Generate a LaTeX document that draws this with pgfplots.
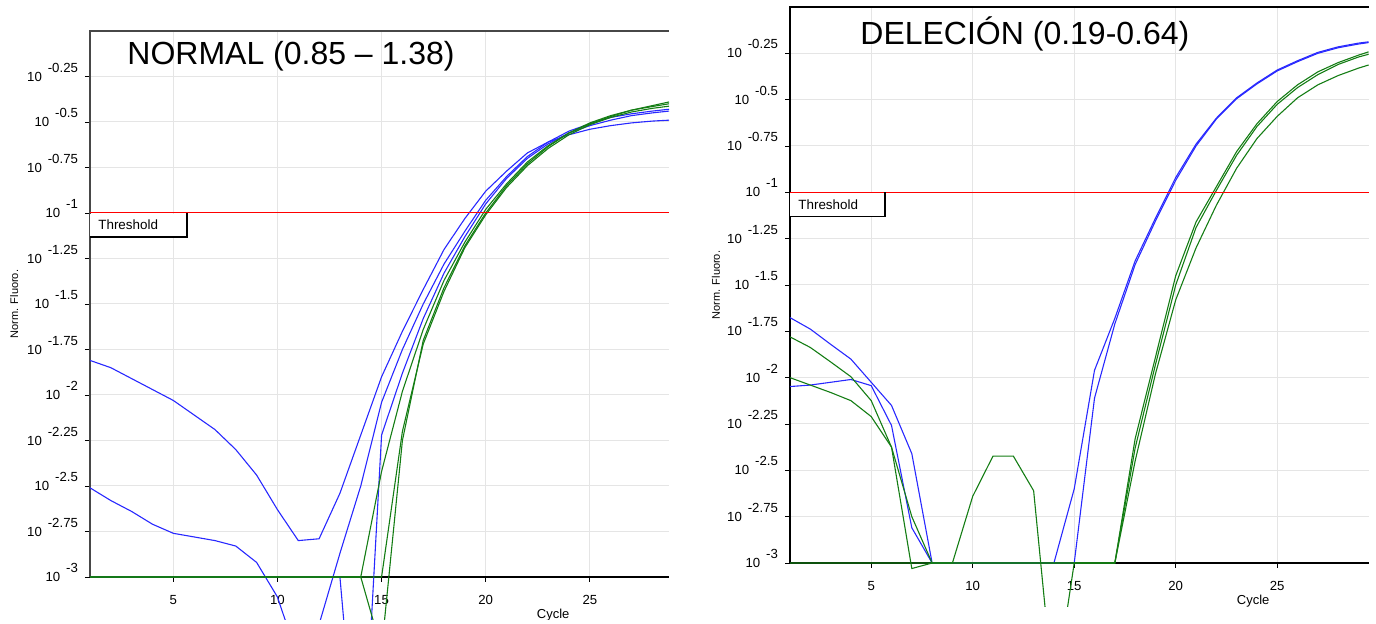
\documentclass[border=0pt]{standalone}
\usepackage{fontspec}
\setmainfont{Liberation Sans}
\usepackage{pgfplots}
\pgfplotsset{compat=1.18}

% y tick label: "10" with the exponent set high, as in the instrument software
\newcommand{\tl}[1]{10\hspace{3pt}\raisebox{4.5pt}{#1}}

\pgfplotsset{
  qpcr/.style={
    scale only axis, width=289.5pt, anchor=south west,
    xmin=1, ymin=-3, ymax=0,
    clip=false,
    axis line style={draw=none},
    xtick={5,10,15,20,25},
    ytick={-3,-2.75,-2.5,-2.25,-2,-1.75,-1.5,-1.25,-1,-0.75,-0.5,-0.25},
    yticklabels={{\tl{-3}},{\tl{-2.75}},{\tl{-2.5}},{\tl{-2.25}},{\tl{-2}},{\tl{-1.75}},
                 {\tl{-1.5}},{\tl{-1.25}},{\tl{-1}},{\tl{-0.75}},{\tl{-0.5}},{\tl{-0.25}}},
    /pgf/number format/assume math mode=true,
    grid=major,
    major grid style={black!10, line width=0.5pt},
    tick align=outside, tick pos=left,
    major tick length=2.5pt,
    tick style={black, line width=0.4pt},
    tick label style={font=\fontsize{6.6}{7}\selectfont},
    yticklabel style={anchor=base east, yshift=-2.3pt},
    xticklabel style={yshift=-3pt},
    xlabel={Cycle}, ylabel={Norm. Fluoro.},
    every axis x label/.style={at={(axis description cs:0.8,0)}, anchor=center,
      yshift=-19pt, font=\fontsize{6.5}{7}\selectfont},
  },
  bl/.style={color={rgb,255:red,40;green,40;blue,255}, line width=0.55pt},
  gr/.style={color={rgb,255:red,20;green,125;blue,20}, line width=0.55pt},
}

\begin{document}
\begin{tikzpicture}
\useasboundingbox (0,0) rectangle (688pt,312pt);

% ---------------- NORMAL ----------------
\begin{scope}
\clip (0pt,2pt) rectangle (345pt,312pt);
\begin{axis}[qpcr, at={(45pt,23.5pt)}, height=273pt, xmax=28.8,
  every axis y label/.style={at={(axis description cs:-0.131,0.5)}, rotate=90,
    anchor=center, font=\fontsize{5.5}{6}\selectfont}]
\draw[black!72, line width=1pt] (rel axis cs:0,0) -- (rel axis cs:0,1) -- (rel axis cs:1,1);
\draw[black, line width=1pt] (rel axis cs:0,0) -- (rel axis cs:1,0);
% blue
\addplot[bl] coordinates {(1,-1.81)(2,-1.85)(3,-1.91)(4,-1.97)(5,-2.03)(6,-2.11)(7,-2.19)(8,-2.30)(9,-2.44)(10,-2.63)(11,-2.80)(12,-2.79)(13,-2.54)(14,-2.22)(15,-1.90)(16,-1.65)(17,-1.42)(18,-1.20)(19,-1.03)(20,-0.88)(21,-0.77)(22,-0.67)(23,-0.61)(24,-0.57)(25,-0.54)(26,-0.52)(27,-0.505)(28,-0.495)(28.8,-0.49)};
\addplot[bl] coordinates {(1,-2.51)(2,-2.58)(3,-2.64)(4,-2.71)(5,-2.76)(6,-2.78)(7,-2.80)(8,-2.83)(9,-2.92)(10,-3.11)(11,-3.45)(12,-3.26)(13,-2.87)(14,-2.50)(15,-2.04)(16,-1.75)(17,-1.50)(18,-1.28)(19,-1.10)(20,-0.93)(21,-0.80)(22,-0.69)(23,-0.61)(24,-0.55)(25,-0.51)(26,-0.475)(27,-0.455)(28,-0.44)(28.8,-0.43)};
\addplot[bl] coordinates {(1,-3)(13,-3)(14,-4.3)(15,-2.22)(16,-1.88)(17,-1.58)(18,-1.33)(19,-1.13)(20,-0.95)(21,-0.81)(22,-0.70)(23,-0.62)(24,-0.56)(25,-0.52)(26,-0.49)(27,-0.465)(28,-0.45)(28.8,-0.44)};
% green
\addplot[gr] coordinates {(1,-3)(14,-3)(15,-2.42)(16,-1.98)(17,-1.64)(18,-1.37)(19,-1.16)(20,-0.98)(21,-0.84)(22,-0.72)(23,-0.63)(24,-0.56)(25,-0.51)(26,-0.47)(27,-0.435)(28,-0.41)(28.8,-0.39)};
\addplot[gr] coordinates {(1,-3)(14,-3)(15,-3.4)(16,-2.25)(17,-1.70)(18,-1.41)(19,-1.18)(20,-1.0)(21,-0.85)(22,-0.73)(23,-0.635)(24,-0.56)(25,-0.505)(26,-0.465)(27,-0.435)(28,-0.415)(28.8,-0.40)};
\addplot[gr] coordinates {(1,-3)(15,-3)(16,-2.2)(17,-1.72)(18,-1.43)(19,-1.19)(20,-1.01)(21,-0.86)(22,-0.74)(23,-0.645)(24,-0.57)(25,-0.515)(26,-0.475)(27,-0.445)(28,-0.425)(28.8,-0.413)};
% threshold
\addplot[red, line width=0.5pt] coordinates {(1,-1)(28.8,-1)};
\fill[white] ([yshift=-0.3pt]axis cs:1,-1) rectangle ([xshift=48.5pt,yshift=-12pt]axis cs:1,-1);
\draw[black, line width=0.6pt] ([xshift=48.5pt]axis cs:1,-1) -- ([xshift=48.5pt,yshift=-12pt]axis cs:1,-1) -- ([yshift=-12pt]axis cs:1,-1);
\node[anchor=west, inner sep=0pt, font=\fontsize{6.7}{8}\selectfont] at ([xshift=4pt,yshift=-6pt]axis cs:1,-1) {Threshold};
\node[anchor=base west, inner sep=0pt, font=\fontsize{16}{19}\selectfont] at ([xshift=18.5pt,yshift=-17pt]rel axis cs:0,1) {NORMAL (0.85 \textendash\ 1.38)};
\end{axis}
\end{scope}

% ---------------- DELECION ----------------
\begin{scope}
\clip (345pt,8.5pt) rectangle (688pt,312pt);
\begin{axis}[qpcr, at={(395pt,30.5pt)}, height=278pt, xmax=29.52,
  every axis y label/.style={at={(axis description cs:-0.128,0.5)}, rotate=90,
    anchor=center, font=\fontsize{5.5}{6}\selectfont}]
\draw[black, line width=0.8pt] (rel axis cs:0,0) -- (rel axis cs:0,1) -- (rel axis cs:1,1);
\draw[black, line width=1pt] (rel axis cs:0,0) -- (rel axis cs:1,0);
% blue
\addplot[bl] coordinates {(1,-1.676)(2,-1.738)(3,-1.82)(4,-1.90)(5,-2.025)(6,-2.15)(7,-2.41)(8,-3)(14,-3)(15,-2.6)(16,-1.96)(17,-1.68)(18,-1.37)(19,-1.14)(20,-0.92)(21,-0.74)(22,-0.60)(23,-0.49)(24,-0.41)(25,-0.34)(26,-0.29)(27,-0.245)(28,-0.215)(29,-0.195)(29.5,-0.188)};
\addplot[bl] coordinates {(1,-2.048)(2,-2.04)(3,-2.025)(4,-2.01)(5,-2.043)(6,-2.258)(7,-2.81)(8,-3)(15,-3)(16,-2.11)(17,-1.71)(18,-1.39)(19,-1.155)(20,-0.935)(21,-0.75)(22,-0.605)(23,-0.495)(24,-0.415)(25,-0.345)(26,-0.295)(27,-0.25)(28,-0.22)(29,-0.2)(29.5,-0.192)};
% green
\addplot[gr] coordinates {(1,-1.78)(2,-1.837)(3,-1.915)(4,-1.995)(5,-2.124)(6,-2.375)(7,-3.03)(8,-3)(17,-3)(18,-2.33)(19,-1.89)(20,-1.45)(21,-1.16)(22,-0.97)(23,-0.78)(24,-0.63)(25,-0.51)(26,-0.42)(27,-0.35)(28,-0.30)(29,-0.26)(29.5,-0.242)};
\addplot[gr] coordinates {(1,-2.0)(2,-2.04)(3,-2.08)(4,-2.124)(5,-2.21)(6,-2.375)(7,-2.75)(8,-3)(17,-3)(18,-2.38)(19,-1.93)(20,-1.50)(21,-1.19)(22,-0.99)(23,-0.80)(24,-0.645)(25,-0.525)(26,-0.435)(27,-0.365)(28,-0.31)(29,-0.27)(29.5,-0.255)};
\addplot[gr] coordinates {(1,-3)(9,-3)(10,-2.64)(11,-2.423)(12,-2.423)(13,-2.61)(14,-3.726)(15,-3)(17,-3)(18,-2.45)(19,-1.98)(20,-1.58)(21,-1.30)(22,-1.07)(23,-0.87)(24,-0.71)(25,-0.59)(26,-0.49)(27,-0.42)(28,-0.37)(29,-0.33)(29.5,-0.313)};
% threshold
\addplot[red, line width=0.5pt] coordinates {(1,-1)(29.52,-1)};
\fill[white] ([yshift=-0.3pt]axis cs:1,-1) rectangle ([xshift=47.5pt,yshift=-12pt]axis cs:1,-1);
\draw[black, line width=0.6pt] ([xshift=47.5pt]axis cs:1,-1) -- ([xshift=47.5pt,yshift=-12pt]axis cs:1,-1) -- ([yshift=-12pt]axis cs:1,-1);
\node[anchor=west, inner sep=0pt, font=\fontsize{6.7}{8}\selectfont] at ([xshift=4pt,yshift=-6pt]axis cs:1,-1) {Threshold};
\node[anchor=base west, inner sep=0pt, font=\fontsize{16}{19}\selectfont] at ([xshift=35pt,yshift=-19pt]rel axis cs:0,1) {DELECIÓN (0.19-0.64)};
\end{axis}
\end{scope}
\end{tikzpicture}
\end{document}
